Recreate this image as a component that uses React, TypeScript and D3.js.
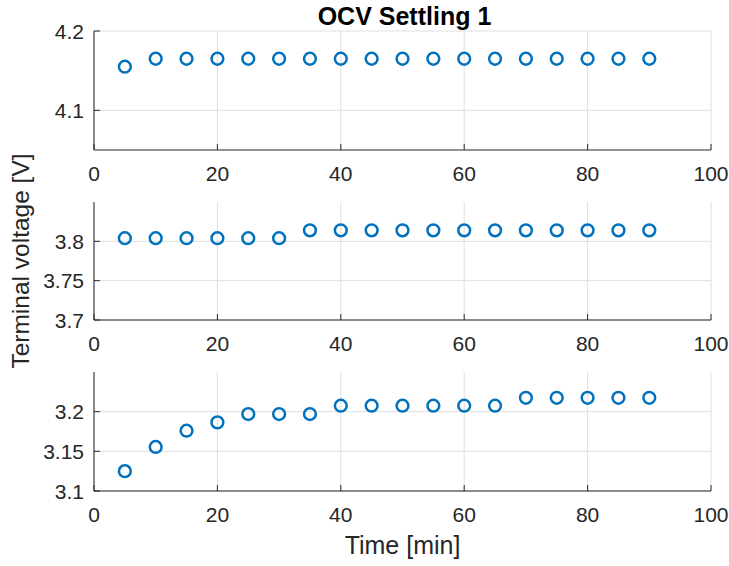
import React from "react";
import * as d3 from "d3";

const times = [5, 10, 15, 20, 25, 30, 35, 40, 45, 50, 55, 60, 65, 70, 75, 80, 85, 90];
const voltage1 = [4.155, 4.165, 4.165, 4.165, 4.165, 4.165, 4.165, 4.165, 4.165, 4.165, 4.165, 4.165, 4.165, 4.165, 4.165, 4.165, 4.165, 4.165];
const voltage2 = [3.804, 3.804, 3.804, 3.804, 3.804, 3.804, 3.814, 3.814, 3.814, 3.814, 3.814, 3.814, 3.814, 3.814, 3.814, 3.814, 3.814, 3.814];
const voltage3 = [3.125, 3.1555, 3.176, 3.1865, 3.197, 3.197, 3.197, 3.2075, 3.2075, 3.2075, 3.2075, 3.2075, 3.2075, 3.2175, 3.2175, 3.2175, 3.2175, 3.2175];
const xTicks = [0, 20, 40, 60, 80, 100];
const yDomains = [[4.05, 4.2], [3.7, 3.85], [3.1, 3.25]];
const yTicks = [[4.1, 4.2], [3.7, 3.75, 3.8], [3.1, 3.15, 3.2]];
const yTickLabels = [["4.1", "4.2"], ["3.7", "3.75", "3.8"], ["3.1", "3.15", "3.2"]];
const series = [voltage1, voltage2, voltage3];
const title = "OCV Settling 1";
const xLabel = "Time [min]";
const yLabel = "Terminal voltage [V]";

const W = 729;
const H = 566;
const left = 94;
const right = 711;
const panels = [
  { top: 31, bottom: 150 },
  { top: 202, bottom: 320 },
  { top: 372, bottom: 491 },
];
const axisColor = "#262626";
const gridColor = "#dfdfdf";
const markerColor = "#0072BD";
const font = "'Liberation Sans', Arial, Helvetica, sans-serif";

export default function App() {
  const x = d3.scaleLinear().domain([0, 100]).range([left, right]);
  return (
    <svg width={W} height={H} style={{ position: "absolute", left: 0, top: 0, background: "#fff" }} fontFamily={font}>
      <rect x={0} y={0} width={W} height={H} fill="#fff" />
      {panels.map((p, i) => {
        const y = d3.scaleLinear().domain(yDomains[i]).range([p.bottom, p.top]);
        return (
          <g key={i}>
            {xTicks.map((t) => (
              <line key={"gx" + t} x1={x(t)} x2={x(t)} y1={p.top} y2={p.bottom} stroke={gridColor} strokeWidth={1} />
            ))}
            {yTicks[i].map((t) => (
              <line key={"gy" + t} x1={left} x2={right} y1={y(t)} y2={y(t)} stroke={gridColor} strokeWidth={1} />
            ))}
            <line x1={left} x2={right} y1={p.bottom} y2={p.bottom} stroke={axisColor} strokeWidth={1} />
            <line x1={left} x2={left} y1={p.top} y2={p.bottom} stroke={axisColor} strokeWidth={1} />
            {xTicks.map((t) => (
              <g key={"tx" + t}>
                <line x1={x(t)} x2={x(t)} y1={p.bottom} y2={p.bottom - 6} stroke={axisColor} strokeWidth={1} />
                <text x={x(t)} y={p.bottom + 31} textAnchor="middle" fontSize={21} fill={axisColor}>
                  {t}
                </text>
              </g>
            ))}
            {yTicks[i].map((t, j) => (
              <g key={"ty" + t}>
                <line x1={left} x2={left + 6} y1={y(t)} y2={y(t)} stroke={axisColor} strokeWidth={1} />
                <text x={left - 10} y={y(t) + 7.5} textAnchor="end" fontSize={21} fill={axisColor}>
                  {yTickLabels[i][j]}
                </text>
              </g>
            ))}
            {series[i].map((v, k) => (
              <circle key={k} cx={x(times[k])} cy={y(v)} r={5.9} fill="none" stroke={markerColor} strokeWidth={2.5} />
            ))}
          </g>
        );
      })}
      <text x={(left + right) / 2 + 2} y={25} textAnchor="middle" fontSize={25} fontWeight="bold" fill="#000">
        {title}
      </text>
      <text x={(left + right) / 2} y={554} textAnchor="middle" fontSize={25} fill={axisColor}>
        {xLabel}
      </text>
      <text transform={`translate(29, ${(panels[0].top + panels[2].bottom) / 2}) rotate(-90)`} textAnchor="middle" fontSize={24.5} fill={axisColor}>
        {yLabel}
      </text>
    </svg>
  );
}
